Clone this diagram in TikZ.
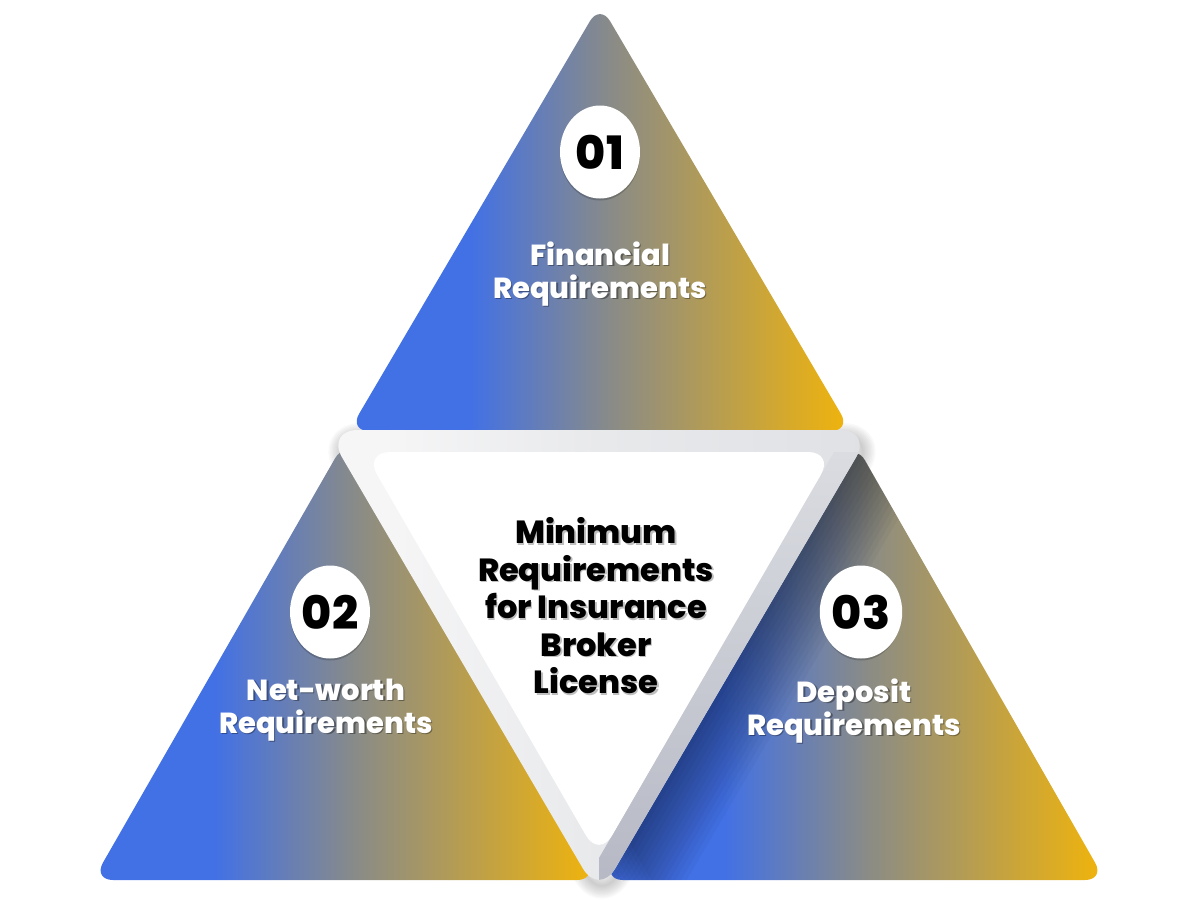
\documentclass[tikz,border=0pt]{standalone}
\usepackage{fontspec}
\setmainfont{Poppins}[BoldFont={Poppins ExtraBold}]
\usetikzlibrary{shapes.geometric}
\definecolor{cB}{RGB}{66,113,230}
\definecolor{cG}{RGB}{137,139,136}
\definecolor{cY}{RGB}{241,180,10}
\definecolor{bdL}{RGB}{246,246,247}
\definecolor{bdM}{RGB}{232,233,235}
\definecolor{bdR}{RGB}{224,225,229}
\definecolor{bandT}{RGB}{218,220,225}
\definecolor{bandB}{RGB}{180,183,195}
\pgfdeclarehorizontalshading{tri}{100bp}{color(0bp)=(cB); color(37bp)=(cB); color(51bp)=(cG); color(75bp)=(cY); color(100bp)=(cY)}
\pgfdeclarehorizontalshading{rim}{100bp}{color(0bp)=(bdL); color(30bp)=(bdL); color(50bp)=(bdM); color(75bp)=(bdR); color(100bp)=(bdR)}
\tikzset{
  tribox/.style={shading=tri, rounded corners=20},
  lab/.style={text=white, font=\fontsize{29}{33}\selectfont\bfseries, align=center},
  labsh/.style={text=black, opacity=0.35, font=\fontsize{29}{33}\selectfont\bfseries, align=center},
  numcirc/.style={ellipse, fill=white, minimum width=80, minimum height=93, inner sep=0pt,
    font=\fontsize{46}{46}\selectfont\bfseries, text=black},
  numsh/.style={ellipse, fill=black, opacity=0.18, minimum width=80, minimum height=93, inner sep=0pt},
  centxt/.style={text=black, font=\fontsize{32}{37.5}\selectfont\bfseries, align=center},
  centsh/.style={text=black, opacity=0.25, font=\fontsize{32}{37.5}\selectfont\bfseries, align=center},
}
\begin{document}
\begin{tikzpicture}[x=1pt,y=-1pt]
\useasboundingbox (0,0) rectangle (1200,900);
% corner points
\coordinate (t1) at (600,4);   \coordinate (t2) at (349,431); \coordinate (t3) at (851,431);
\coordinate (l1) at (345,441); \coordinate (l2) at (93,880);  \coordinate (l3) at (597,880);
\coordinate (r1) at (855,443); \coordinate (r2) at (603,880); \coordinate (r3) at (1105,880);
\coordinate (o1) at (326,430); \coordinate (o2) at (872,430); \coordinate (o3) at (599,896);
\coordinate (i1) at (364,452); \coordinate (i2) at (834,452); \coordinate (i3) at (599,858);
% soft drop shadow of the centre triangle
\foreach \w in {2,5,...,26}
  \draw[black, opacity=0.025, line width=\w, rounded corners=32, line join=round]
    ([shift={(3,6)}]o1) -- ([shift={(3,6)}]o2) -- ([shift={(3,6)}]o3) -- cycle;
% coloured triangles
\path[tribox] (t1) -- (t2) -- (t3) -- cycle;
\path[tribox] (l1) -- (l2) -- (l3) -- cycle;
\path[tribox] (r1) -- (r2) -- (r3) -- cycle;
% shadow cast on the right triangle
\begin{scope}
  \clip[rounded corners=20] (r1) -- (r2) -- (r3) -- cycle;
  \foreach \k in {1,...,14}
    \fill[black, opacity=0.03, rounded corners=32]
      ([shift={(\k*5,\k*1)}]o1) -- ([shift={(\k*5,\k*1)}]o2) -- ([shift={(\k*5,\k*1)}]o3) -- cycle;
\end{scope}
% centre triangle: rim
\path[shading=rim, rounded corners=32] (o1) -- (o2) -- (o3) -- cycle;
\begin{scope}
  \clip[rounded corners=32] (o1) -- (o2) -- (o3) -- cycle;
  \path[top color=bandT, bottom color=bandB] (i3) -- (i2) -- (900,452) -- (900,910) -- (599,910) -- cycle;
\end{scope}
\fill[white, rounded corners=26] (i1) -- (i2) -- (i3) -- cycle;
% centre text
\node[centsh] (censh) at (597.5,607.5) {Minimum\\Requirements\\for Insurance\\Broker\\License};
\node[centxt] (cen) at (596,606) {Minimum\\Requirements\\for Insurance\\Broker\\License};
% numbers
\node[numsh] (n1s) at (600,154) {};
\node[numcirc] (n1) at (600,152) {01};
\node[numsh] (n2s) at (330,614) {};
\node[numcirc] (n2) at (330,612) {02};
\node[numsh] (n3s) at (861,614) {};
\node[numcirc] (n3) at (861,612) {03};
% labels
\node[labsh] (f1s) at (601.5,275.5) {Financial\\Requirements};
\node[lab] (f1) at (600,274) {Financial\\Requirements};
\node[labsh] (f2s) at (327.5,711.5) {Net-worth\\Requirements};
\node[lab] (f2) at (326,710) {Net-worth\\Requirements};
\node[labsh] (f3s) at (855.5,712.5) {Deposit\\Requirements};
\node[lab] (f3) at (854,711) {Deposit\\Requirements};
\end{tikzpicture}
\end{document}
